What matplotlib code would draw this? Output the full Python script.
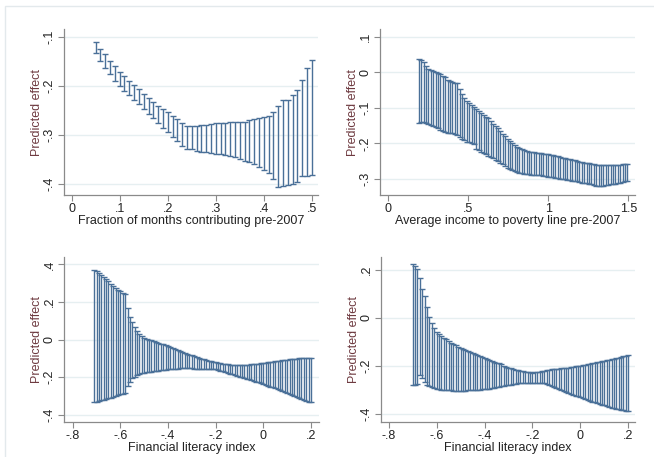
import numpy as np
import matplotlib.pyplot as plt
from matplotlib.patches import Rectangle
from matplotlib.ticker import FixedLocator, FixedFormatter

plt.rcParams['font.family'] = ['Liberation Sans', 'DejaVu Sans']

# ---------------- data ----------------
# Panel 1: fraction of months contributing pre-2007
x_frac = np.round(np.arange(0.05, 0.505, 0.01), 3)
hi_frac = [-0.109, -0.124, -0.135, -0.148, -0.159, -0.170, -0.180, -0.190, -0.197, -0.206,
           -0.215, -0.224, -0.232, -0.240, -0.247, -0.253, -0.260, -0.268, -0.275, -0.281,
           -0.281, -0.281, -0.280, -0.279, -0.278, -0.276, -0.275, -0.275, -0.274, -0.273,
           -0.273, -0.273, -0.270, -0.267, -0.265, -0.262, -0.260, -0.252, -0.240, -0.229,
           -0.228, -0.218, -0.208, -0.187, -0.162, -0.147]
lo_frac = [-0.133, -0.149, -0.163, -0.176, -0.189, -0.200, -0.210, -0.219, -0.228, -0.237,
           -0.247, -0.256, -0.266, -0.275, -0.285, -0.294, -0.303, -0.313, -0.322, -0.328,
           -0.329, -0.332, -0.334, -0.335, -0.337, -0.339, -0.339, -0.340, -0.342, -0.345,
           -0.348, -0.352, -0.356, -0.360, -0.366, -0.372, -0.378, -0.390, -0.406, -0.405,
           -0.402, -0.399, -0.396, -0.383, -0.383, -0.382]

# Panel 2: average income to poverty line pre-2007
x_inc = np.round(0.19 + 0.015 * np.arange(88), 3)
hi_inc = [0.036, 0.035, 0.030, 0.018, 0.010, 0.006, 0.004, 0.001, -0.003, -0.006,
          -0.010, -0.014, -0.021, -0.025, -0.028, -0.029, -0.031, -0.046, -0.062, -0.072,
          -0.080, -0.086, -0.092, -0.098, -0.103, -0.109, -0.115, -0.120, -0.125, -0.129,
          -0.137, -0.145, -0.151, -0.158, -0.166, -0.174, -0.180, -0.187, -0.193, -0.199,
          -0.204, -0.209, -0.213, -0.216, -0.219, -0.221, -0.223, -0.224, -0.225, -0.226,
          -0.227, -0.228, -0.229, -0.229, -0.230, -0.232, -0.233, -0.235, -0.236, -0.238,
          -0.240, -0.242, -0.243, -0.245, -0.246, -0.248, -0.249, -0.251, -0.252, -0.254,
          -0.255, -0.256, -0.258, -0.259, -0.260, -0.261, -0.261, -0.262, -0.262, -0.262,
          -0.262, -0.262, -0.261, -0.261, -0.260, -0.259, -0.258, -0.257]
lo_inc = [-0.142, -0.140, -0.139, -0.142, -0.145, -0.148, -0.151, -0.154, -0.158, -0.162,
          -0.166, -0.169, -0.171, -0.172, -0.172, -0.174, -0.177, -0.182, -0.187, -0.191,
          -0.195, -0.197, -0.200, -0.202, -0.215, -0.219, -0.224, -0.227, -0.231, -0.234,
          -0.237, -0.242, -0.246, -0.250, -0.255, -0.259, -0.264, -0.268, -0.272, -0.275,
          -0.277, -0.280, -0.282, -0.284, -0.285, -0.286, -0.287, -0.288, -0.289, -0.289,
          -0.290, -0.290, -0.291, -0.292, -0.293, -0.294, -0.295, -0.297, -0.298, -0.299,
          -0.300, -0.301, -0.302, -0.304, -0.305, -0.306, -0.307, -0.308, -0.310, -0.311,
          -0.312, -0.314, -0.315, -0.317, -0.319, -0.320, -0.321, -0.319, -0.318, -0.317,
          -0.315, -0.314, -0.313, -0.312, -0.311, -0.309, -0.307, -0.305]

# Panel 3: financial literacy index (first model)
x_fl1 = np.round(np.arange(-0.71, 0.205, 0.01), 3)
hi_fl1 = [0.372, 0.365, 0.355, 0.345, 0.335, 0.324, 0.311, 0.297, 0.287, 0.276,
          0.266, 0.257, 0.250, 0.244, 0.165, 0.120, 0.094, 0.064, 0.046, 0.028,
          0.016, 0.008, 0.003, -0.001, -0.005, -0.009, -0.013, -0.017, -0.022, -0.026,
          -0.030, -0.035, -0.040, -0.045, -0.050, -0.055, -0.060, -0.065, -0.070, -0.075,
          -0.080, -0.085, -0.089, -0.094, -0.098, -0.102, -0.106, -0.110, -0.114, -0.117,
          -0.120, -0.122, -0.125, -0.127, -0.129, -0.131, -0.133, -0.134, -0.135, -0.136,
          -0.136, -0.136, -0.136, -0.135, -0.135, -0.134, -0.133, -0.131, -0.129, -0.128,
          -0.126, -0.125, -0.123, -0.121, -0.120, -0.118, -0.116, -0.114, -0.112, -0.110,
          -0.109, -0.107, -0.106, -0.105, -0.103, -0.102, -0.101, -0.100, -0.099, -0.098,
          -0.097, -0.096]
lo_fl1 = [-0.335, -0.331, -0.327, -0.324, -0.320, -0.316, -0.313, -0.309, -0.305, -0.300,
          -0.296, -0.292, -0.289, -0.287, -0.250, -0.226, -0.207, -0.197, -0.189, -0.184,
          -0.180, -0.177, -0.175, -0.173, -0.171, -0.169, -0.168, -0.166, -0.164, -0.162,
          -0.161, -0.159, -0.158, -0.157, -0.156, -0.155, -0.154, -0.154, -0.154, -0.154,
          -0.154, -0.154, -0.155, -0.155, -0.155, -0.156, -0.156, -0.157, -0.157, -0.158,
          -0.158, -0.159, -0.162, -0.166, -0.170, -0.174, -0.177, -0.181, -0.186, -0.190,
          -0.194, -0.198, -0.202, -0.205, -0.209, -0.212, -0.216, -0.220, -0.224, -0.228,
          -0.233, -0.237, -0.242, -0.246, -0.251, -0.255, -0.260, -0.265, -0.271, -0.276,
          -0.282, -0.287, -0.292, -0.296, -0.301, -0.305, -0.310, -0.315, -0.320, -0.325,
          -0.330, -0.335]

# Panel 4: financial literacy index (second model)
x_fl2 = np.round(np.arange(-0.70, 0.205, 0.01), 3)
hi_fl2 = [0.222, 0.214, 0.204, 0.163, 0.120, 0.090, 0.043, 0.004, -0.023, -0.044,
          -0.058, -0.068, -0.076, -0.083, -0.090, -0.097, -0.103, -0.109, -0.115, -0.121,
          -0.127, -0.131, -0.135, -0.140, -0.144, -0.148, -0.152, -0.156, -0.160, -0.164,
          -0.168, -0.172, -0.175, -0.179, -0.182, -0.186, -0.190, -0.194, -0.199, -0.203,
          -0.207, -0.210, -0.213, -0.216, -0.219, -0.221, -0.223, -0.225, -0.226, -0.227,
          -0.228, -0.227, -0.225, -0.224, -0.222, -0.221, -0.219, -0.217, -0.215, -0.214,
          -0.212, -0.211, -0.210, -0.209, -0.208, -0.207, -0.205, -0.204, -0.202, -0.201,
          -0.199, -0.197, -0.195, -0.193, -0.191, -0.189, -0.187, -0.185, -0.183, -0.180,
          -0.178, -0.176, -0.174, -0.172, -0.170, -0.168, -0.166, -0.163, -0.161, -0.158,
          -0.156]
lo_fl2 = [-0.279, -0.279, -0.276, -0.237, -0.251, -0.268, -0.279, -0.284, -0.288, -0.293,
          -0.297, -0.298, -0.299, -0.300, -0.301, -0.302, -0.302, -0.303, -0.303, -0.303,
          -0.303, -0.303, -0.303, -0.302, -0.302, -0.302, -0.301, -0.300, -0.299, -0.298,
          -0.297, -0.296, -0.294, -0.292, -0.290, -0.288, -0.287, -0.285, -0.283, -0.281,
          -0.279, -0.278, -0.276, -0.275, -0.273, -0.272, -0.272, -0.272, -0.272, -0.272,
          -0.272, -0.272, -0.272, -0.272, -0.272, -0.273, -0.277, -0.281, -0.285, -0.289,
          -0.292, -0.296, -0.300, -0.304, -0.309, -0.313, -0.317, -0.320, -0.324, -0.327,
          -0.331, -0.335, -0.338, -0.341, -0.345, -0.348, -0.351, -0.354, -0.358, -0.361,
          -0.364, -0.367, -0.370, -0.373, -0.376, -0.379, -0.381, -0.383, -0.385, -0.387,
          -0.389]

# tick values and labels
xt_frac = [0, 0.1, 0.2, 0.3, 0.4, 0.5]
xl_frac = ['0', '.1', '.2', '.3', '.4', '.5']
yt_frac = [-0.1, -0.2, -0.3, -0.4]
yl_frac = ['-.1', '-.2', '-.3', '-.4']
xt_inc = [0, 0.5, 1, 1.5]
xl_inc = ['0', '.5', '1', '1.5']
yt_inc = [0.1, 0, -0.1, -0.2, -0.3]
yl_inc = ['.1', '0', '-.1', '-.2', '-.3']
xt_fl = [-0.8, -0.6, -0.4, -0.2, 0, 0.2]
xl_fl = ['-.8', '-.6', '-.4', '-.2', '0', '.2']
yt_fl1 = [0.4, 0.2, 0, -0.2, -0.4]
yl_fl1 = ['.4', '.2', '0', '-.2', '-.4']
yt_fl2 = [0.2, 0, -0.2, -0.4]
yl_fl2 = ['.2', '0', '-.2', '-.4']

BAR = '#4a7098'
CAP = '#1f4e79'
AXC = '#8a8a8a'
GRID = '#e6eff1'
YLAB = '#6e3a40'
TXT = '#222222'
W, H = 654, 457


def panel(rect_px, x, hi, lo, xlim, ylim, xt, xl, yt, yl, xlabel):
    l, t, r, b = rect_px
    ax = fig.add_axes([l / W, 1 - b / H, (r - l) / W, (b - t) / H])
    hi = np.array(hi)
    lo = np.array(lo)
    mid = (hi + lo) / 2
    _, caps, _ = ax.errorbar(x, mid, yerr=[mid - lo, hi - mid], fmt='none', ecolor=BAR,
                             elinewidth=1.0, capsize=2.4, capthick=1.0)
    for c in caps:
        c.set_color(CAP)
    ax.set_xlim(*xlim)
    ax.set_ylim(*ylim)
    ax.xaxis.set_major_locator(FixedLocator(xt))
    ax.xaxis.set_major_formatter(FixedFormatter(xl))
    ax.yaxis.set_major_locator(FixedLocator(yt))
    ax.yaxis.set_major_formatter(FixedFormatter(yl))
    for s in ['top', 'right']:
        ax.spines[s].set_visible(False)
    for s in ['left', 'bottom']:
        ax.spines[s].set_color(AXC)
        ax.spines[s].set_linewidth(0.9)
    ax.tick_params(axis='both', direction='out', length=4, width=0.8, color=AXC,
                   labelsize=9, labelcolor=TXT, pad=2)
    for lab in ax.get_yticklabels():
        lab.set_rotation(90)
        lab.set_va('center')
    ax.grid(axis='y', color=GRID, linewidth=1.0)
    ax.set_axisbelow(True)
    wpx, hpx = r - l, b - t
    ax.set_ylabel('Predicted effect', fontsize=9, color=YLAB)
    ax.yaxis.set_label_coords(-27 / wpx, 0.5)
    ax.yaxis.label.set_va('center')
    ax.set_xlabel(xlabel, fontsize=9, color=TXT)
    ax.xaxis.set_label_coords(0.5, -26 / hpx)
    ax.xaxis.label.set_va('center')
    return ax


fig = plt.figure(figsize=(W / 100, H / 100), dpi=100)
fig.patches.append(Rectangle((5 / W, -0.1), 1.2, (457 - 6) / H + 0.1, transform=fig.transFigure,
                             fill=False, edgecolor='#e3e9ec', linewidth=1.0))

panel((64, 29, 318, 195), x_frac, hi_frac, lo_frac, (-0.016, 0.513), (-0.4225, -0.083),
      xt_frac, xl_frac, yt_frac, yl_frac, 'Fraction of months contributing pre-2007')
panel((380, 29, 635, 195), x_inc, hi_inc, lo_inc, (-0.052, 1.542), (-0.345, 0.1216),
      xt_inc, xl_inc, yt_inc, yl_inc, 'Average income to poverty line pre-2007')
panel((64, 257, 319, 422), x_fl1, hi_fl1, lo_fl1, (-0.8365, 0.2336), (-0.439, 0.439),
      xt_fl, xl_fl, yt_fl1, yl_fl1, 'Financial literacy index')
panel((381, 257, 635, 422), x_fl2, hi_fl2, lo_fl2, (-0.832, 0.228), (-0.433, 0.252),
      xt_fl, xl_fl, yt_fl2, yl_fl2, 'Financial literacy index')

plt.savefig('out.png', dpi=100)
